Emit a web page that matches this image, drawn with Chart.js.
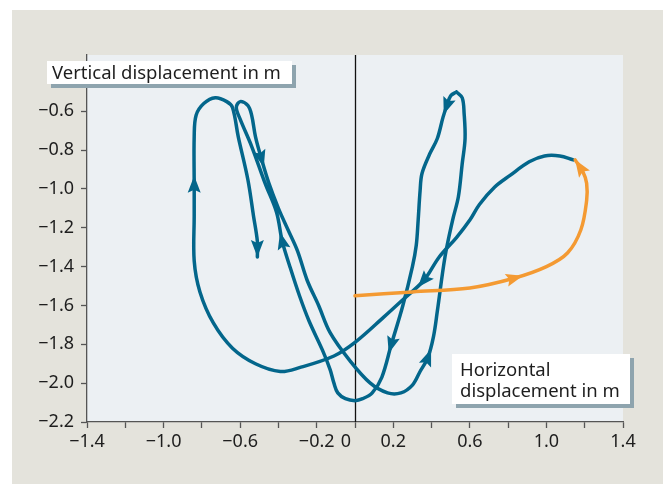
<!DOCTYPE html>
<html>
<head>
<meta charset="utf-8">
<script src="https://cdn.jsdelivr.net/npm/chart.js@4.4.0/dist/chart.umd.min.js"></script>
<style>
  html, body { margin: 0; padding: 0; background: #fff; }
  #wrap { width: 663px; height: 484px; }
</style>
</head>
<body>
<div id="wrap"><canvas id="chart"></canvas></div>
<script>
// start-up path (orange)
var orangeX = [0, 0.30, 0.60, 0.83, 1.00, 1.11, 1.18, 1.21, 1.21, 1.19, 1.15];
var orangeY = [-1.55, -1.53, -1.51, -1.46, -1.40, -1.33, -1.21, -1.06, -0.97, -0.91, -0.85];
var orangeArrows = [3];

// transition path after start-up (blue, open)
var pathX = [1.14, 1.07, 0.99, 0.91, 0.81, 0.73, 0.65, 0.60, 0.53, 0.44, 0.36, 0.25, 0.15, 0,
             -0.11, -0.29, -0.39, -0.52, -0.64, -0.74, -0.81, -0.84, -0.84, -0.84, -0.84, -0.83,
             -0.79, -0.73, -0.67, -0.64, -0.61, -0.56, -0.53, -0.51, -0.51];
var pathY = [-0.85, -0.83, -0.83, -0.86, -0.93, -0.99, -1.08, -1.16, -1.25, -1.35, -1.47, -1.57, -1.66, -1.79,
             -1.86, -1.92, -1.94, -1.90, -1.82, -1.69, -1.53, -1.37, -1.14, -0.98, -0.73, -0.62,
             -0.56, -0.53, -0.55, -0.58, -0.73, -0.95, -1.14, -1.27, -1.35];
var pathArrows = [10, 23];

// periodic cycle (blue, closed)
var cycleX = [0.53, 0.50, 0.48, 0.46, 0.43, 0.39, 0.35, 0.34, 0.33, 0.32, 0.30, 0.25, 0.19, 0.14, 0.09, 0.04, 0,
              -0.05, -0.09, -0.11, -0.13, -0.17, -0.24, -0.29, -0.34, -0.38, -0.41, -0.47, -0.54, -0.60, -0.62,
              -0.60, -0.56, -0.54, -0.52, -0.49, -0.45, -0.40, -0.35, -0.30, -0.25, -0.19, -0.13, -0.03,
              0.08, 0.17, 0.24, 0.30, 0.34, 0.38, 0.41, 0.43, 0.47, 0.51, 0.54, 0.56, 0.575, 0.57, 0.56, 0.53];
var cycleY = [-0.50, -0.52, -0.57, -0.63, -0.74, -0.82, -0.92, -1.01, -1.16, -1.29, -1.40, -1.60, -1.80, -1.97, -2.05, -2.08, -2.09,
              -2.08, -2.05, -2.00, -1.93, -1.83, -1.68, -1.55, -1.40, -1.27, -1.12, -0.97, -0.78, -0.64, -0.58,
              -0.55, -0.57, -0.62, -0.73, -0.84, -0.97, -1.10, -1.21, -1.32, -1.47, -1.60, -1.74, -1.88,
              -2.00, -2.05, -2.05, -2.01, -1.94, -1.87, -1.76, -1.63, -1.35, -1.16, -1.04, -0.87, -0.74, -0.61, -0.53, -0.50];
var cycleArrows = [2, 12, 25, 35, 49];

var xTicks = [-1.4, -1.2, -1.0, -0.8, -0.6, -0.4, -0.2, 0, 0.2, 0.4, 0.6, 0.8, 1.0, 1.2, 1.4];
var xTickLabels = ['\u22121.4', '', '\u22121.0', '', '\u22120.6', '', '\u22120.2', '0\u2003', '0.2', '', '0.6', '', '1.0', '', '1.4'];
var yTicks = [-2.2, -2.0, -1.8, -1.6, -1.4, -1.2, -1.0, -0.8, -0.6];

var FONT = "'Noto Sans', 'Open Sans', sans-serif";
var BLUE = '#03668b';
var ORANGE = '#f49a32';

function pts(xs, ys) {
  return xs.map(function (x, i) { return { x: x, y: ys[i] }; });
}

function arrowHead(ctx, x, y, dx, dy, tipAtPoint) {
  var len = Math.hypot(dx, dy) || 1;
  var ux = dx / len, uy = dy / len;
  var L = 17, W = 13;
  var tx = tipAtPoint ? x : x + ux * L * 0.55;
  var ty = tipAtPoint ? y : y + uy * L * 0.55;
  var bx = tx - ux * L, by = ty - uy * L;
  ctx.beginPath();
  ctx.moveTo(tx, ty);
  ctx.lineTo(bx - uy * W / 2, by + ux * W / 2);
  ctx.lineTo(bx + ux * 3, by + uy * 3);
  ctx.lineTo(bx + uy * W / 2, by - ux * W / 2);
  ctx.closePath();
  ctx.fill();
}

var decor = {
  id: 'decor',
  beforeDraw: function (chart) {
    var ctx = chart.ctx, a = chart.chartArea;
    ctx.save();
    ctx.fillStyle = '#ffffff';
    ctx.fillRect(0, 0, chart.width, chart.height);
    ctx.fillStyle = '#e4e3dc';
    ctx.fillRect(12, 10, chart.width - 12, chart.height - 10);
    ctx.fillStyle = '#ecf0f3';
    ctx.fillRect(a.left, a.top, a.right - a.left, a.bottom - a.top);
    ctx.restore();
  },
  beforeDatasetsDraw: function (chart) {
    // vertical zero line
    var ctx = chart.ctx, a = chart.chartArea;
    var x0 = Math.round(chart.scales.x.getPixelForValue(0)) + 0.5;
    ctx.save();
    ctx.strokeStyle = '#111';
    ctx.lineWidth = 1.3;
    ctx.beginPath();
    ctx.moveTo(x0, a.top);
    ctx.lineTo(x0, a.bottom);
    ctx.stroke();
    ctx.restore();
  },
  afterDatasetsDraw: function (chart) {
    var ctx = chart.ctx;
    ctx.save();
    for (var d = chart.data.datasets.length - 1; d >= 0; d--) {
      var ds = chart.data.datasets[d];
      var p = chart.getDatasetMeta(d).data;
      ctx.fillStyle = ds.borderColor;
      (ds.arrows || []).forEach(function (k) {
        arrowHead(ctx, p[k].x, p[k].y, p[k + 1].x - p[k - 1].x, p[k + 1].y - p[k - 1].y, false);
      });
      if (ds.endArrow) {
        var n = p.length - 1;
        arrowHead(ctx, p[n].x, p[n].y, p[n].x - p[n - 1].x, p[n].y - p[n - 1].y, true);
      }
    }
    ctx.restore();
  },
  afterDraw: function (chart) {
    var ctx = chart.ctx;
    ctx.save();
    ctx.font = '18.5px ' + FONT;
    ctx.textBaseline = 'alphabetic';
    // axis title boxes
    ctx.fillStyle = '#8ea4ae';
    ctx.fillRect(51, 65, 245, 23);
    ctx.fillRect(456, 358, 178, 50);
    ctx.fillStyle = '#ffffff';
    ctx.fillRect(47, 61, 245, 23);
    ctx.fillRect(452, 354, 178, 50);
    ctx.fillStyle = '#1e1e1e';
    ctx.fillText('Vertical displacement in m', 52, 79);
    ctx.fillText('Horizontal', 460, 376);
    ctx.fillText('displacement in m', 460, 397);
    ctx.restore();
  }
};

var ctx = document.getElementById('chart').getContext('2d');
var chart = new Chart(ctx, {
  type: 'scatter',
  data: {
    datasets: [{
      data: pts(orangeX, orangeY),
      borderColor: ORANGE,
      arrows: orangeArrows,
      endArrow: true
    }, {
      data: pts(pathX, pathY),
      borderColor: BLUE,
      arrows: pathArrows,
      endArrow: true
    }, {
      data: pts(cycleX, cycleY),
      borderColor: BLUE,
      arrows: cycleArrows,
      endArrow: false
    }]
  },
  options: {
    responsive: true,
    maintainAspectRatio: false,
    animation: false,
    events: [],
    showLine: true,
    elements: {
      point: { radius: 0 },
      line: { borderWidth: 3.5, tension: 0.35, fill: false, borderCapStyle: 'round', borderJoinStyle: 'round' }
    },
    layout: { padding: { left: 0, right: 40, top: 55, bottom: 0 } },
    plugins: { legend: { display: false }, tooltip: { enabled: false } },
    scales: {
      x: {
        type: 'linear',
        min: -1.4,
        max: 1.4,
        afterFit: function (s) { s.height = 62; },
        afterBuildTicks: function (s) { s.ticks = xTicks.map(function (v) { return { value: v }; }); },
        grid: { drawOnChartArea: false, drawTicks: true, tickLength: 6, tickColor: '#555', tickWidth: 1.3 },
        border: { display: true, color: '#555', width: 1.3 },
        ticks: {
          padding: 3,
          maxRotation: 0,
          autoSkip: false,
          color: '#1e1e1e',
          font: { family: FONT, size: 18 },
          callback: function (v, i) { return xTickLabels[i]; }
        }
      },
      y: {
        type: 'linear',
        min: -2.2,
        max: -0.31,
        afterFit: function (s) { s.width = 87; },
        afterBuildTicks: function (s) { s.ticks = yTicks.map(function (v) { return { value: v }; }); },
        grid: { drawOnChartArea: false, drawTicks: true, tickLength: 6, tickColor: '#555', tickWidth: 1.3 },
        border: { display: true, color: '#555', width: 1.3 },
        ticks: {
          padding: 7,
          color: '#1e1e1e',
          font: { family: FONT, size: 18 },
          callback: function (v) { return v.toFixed(1).replace('-', '\u2212'); }
        }
      }
    }
  },
  plugins: [decor]
});
</script>
</body>
</html>
